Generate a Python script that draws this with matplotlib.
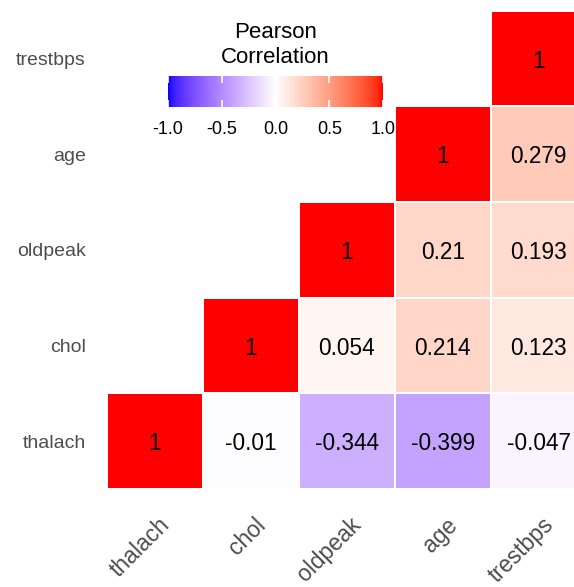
import numpy as np
import matplotlib
matplotlib.use("Agg")
import matplotlib.pyplot as plt
from matplotlib.colors import ListedColormap, Normalize
from matplotlib.cm import ScalarMappable
from matplotlib.transforms import ScaledTranslation

plt.rcParams['font.family'] = ['Liberation Sans', 'DejaVu Sans']

# Variables in axis order (left->right, bottom->top)
variables = ["thalach", "chol", "oldpeak", "age", "trestbps"]

# Pairwise Pearson correlations (upper triangle, row var vs column var)
corr_pairs = {
    ("thalach", "chol"): -0.01,
    ("thalach", "oldpeak"): -0.344,
    ("thalach", "age"): -0.399,
    ("thalach", "trestbps"): -0.047,
    ("chol", "oldpeak"): 0.054,
    ("chol", "age"): 0.214,
    ("chol", "trestbps"): 0.123,
    ("oldpeak", "age"): 0.21,
    ("oldpeak", "trestbps"): 0.193,
    ("age", "trestbps"): 0.279,
}
legend_ticks = [-1.0, -0.5, 0.0, 0.5, 1.0]

n = len(variables)
mat = np.full((n, n), np.nan)
for i in range(n):
    mat[i, i] = 1.0
for (a, b), v in corr_pairs.items():
    r, c = variables.index(a), variables.index(b)
    mat[r, c] = v
# show only cells with column index >= row index
mask = np.tril(np.ones((n, n), dtype=bool), k=-1)
data = np.ma.masked_array(mat, mask=mask | np.isnan(mat))


# --- diverging blue-white-red palette interpolated in CIELAB ---
WHITE_REF = np.array([0.95047, 1.0, 1.08883])
M = np.array([[0.4124564, 0.3575761, 0.1804375],
              [0.2126729, 0.7151522, 0.0721750],
              [0.0193339, 0.1191920, 0.9503041]])
Minv = np.linalg.inv(M)


def rgb_to_lab(rgb):
    rgb = np.asarray(rgb, float)
    lin = np.where(rgb <= 0.04045, rgb / 12.92, ((rgb + 0.055) / 1.055) ** 2.4)
    xyz = M @ lin / WHITE_REF
    eps = 216 / 24389
    kap = 24389 / 27
    f = np.where(xyz > eps, np.cbrt(xyz), (kap * xyz + 16) / 116)
    return np.array([116 * f[1] - 16, 500 * (f[0] - f[1]), 200 * (f[1] - f[2])])


def lab_to_rgb(lab):
    L, a, b = lab
    fy = (L + 16) / 116
    fx = fy + a / 500
    fz = fy - b / 200
    eps = 216 / 24389
    kap = 24389 / 27
    f = np.array([fx, fy, fz])
    xyz = np.where(f ** 3 > eps, f ** 3, (116 * f - 16) / kap)
    xyz[1] = fy ** 3 if L > kap * eps else L / kap
    lin = Minv @ (xyz * WHITE_REF)
    lin = np.clip(lin, 0, 1)
    rgb = np.where(lin <= 0.0031308, 12.92 * lin, 1.055 * lin ** (1 / 2.4) - 0.055)
    return np.clip(rgb, 0, 1)


lab_low = rgb_to_lab([0, 0, 1])
lab_mid = rgb_to_lab([1, 1, 1])
lab_high = rgb_to_lab([1, 0, 0])
vals = np.linspace(-1, 1, 511)
colors = []
for v in vals:
    if v < 0:
        lab = lab_mid + (lab_low - lab_mid) * (-v)
    else:
        lab = lab_mid + (lab_high - lab_mid) * v
    colors.append(lab_to_rgb(lab))
cmap = ListedColormap(colors)
norm = Normalize(-1, 1)

W, H = 574, 587
fig = plt.figure(figsize=(W / 100, H / 100), dpi=100)

# heatmap axes; the right-most column runs past the canvas edge
left_px, right_px = 106.7, 586.7
top_px, bottom_px = 10.7, 489.0
ax = fig.add_axes([left_px / W, 1 - bottom_px / H,
                   (right_px - left_px) / W, (bottom_px - top_px) / H])
ax.pcolormesh(np.arange(n + 1), np.arange(n + 1), data, cmap=cmap, norm=norm,
              edgecolors="white", linewidth=1.2)
ax.set_xlim(0, n)
ax.set_ylim(0, n)
for s in ax.spines.values():
    s.set_visible(False)


def fmt(v):
    return f"{v:.3f}".rstrip("0").rstrip(".")


for r in range(n):
    for c in range(n):
        if not data.mask[r, c]:
            ax.text(c + 0.5, r + 0.5, fmt(mat[r, c]), ha="center",
                    va="center_baseline", fontsize=16.3, color="black")

ax.set_xticks(np.arange(n) + 0.5)
ax.set_yticks(np.arange(n) + 0.5)
ax.set_yticklabels(variables, fontsize=14, color="#4d4d4d")
ax.set_xticklabels(variables, fontsize=16.5, color="#4d4d4d", rotation=45,
                   ha="right", va="top", rotation_mode="anchor")
ax.tick_params(axis="both", length=0)
ax.tick_params(axis="y", pad=15)
ax.tick_params(axis="x", pad=17.5)
offset = ScaledTranslation(3 / 100, 0, fig.dpi_scale_trans)
for lbl in ax.get_xticklabels():
    lbl.set_transform(lbl.get_transform() + offset)

# colour legend
cb_l, cb_r, cb_t, cb_b = 168, 383, 76, 107
cax = fig.add_axes([cb_l / W, 1 - cb_b / H, (cb_r - cb_l) / W, (cb_b - cb_t) / H])
cb = fig.colorbar(ScalarMappable(norm=norm, cmap=cmap), cax=cax,
                  orientation="horizontal", ticks=legend_ticks)
cb.outline.set_visible(False)
cax.set_xticklabels([f"{t:.1f}" for t in legend_ticks], fontsize=13, color="black")
cax.tick_params(axis="x", direction="in", length=5, width=1.2, color="white",
                top=True, bottom=True, pad=10)

fig.text(275.5 / W, 1 - 37.5 / H, "Pearson", ha="center", va="baseline",
         fontsize=16, color="black")
fig.text(275.5 / W, 1 - 62.7 / H, "Correlation", ha="center", va="baseline",
         fontsize=16, color="black")

fig.savefig("out.png", dpi=100)
